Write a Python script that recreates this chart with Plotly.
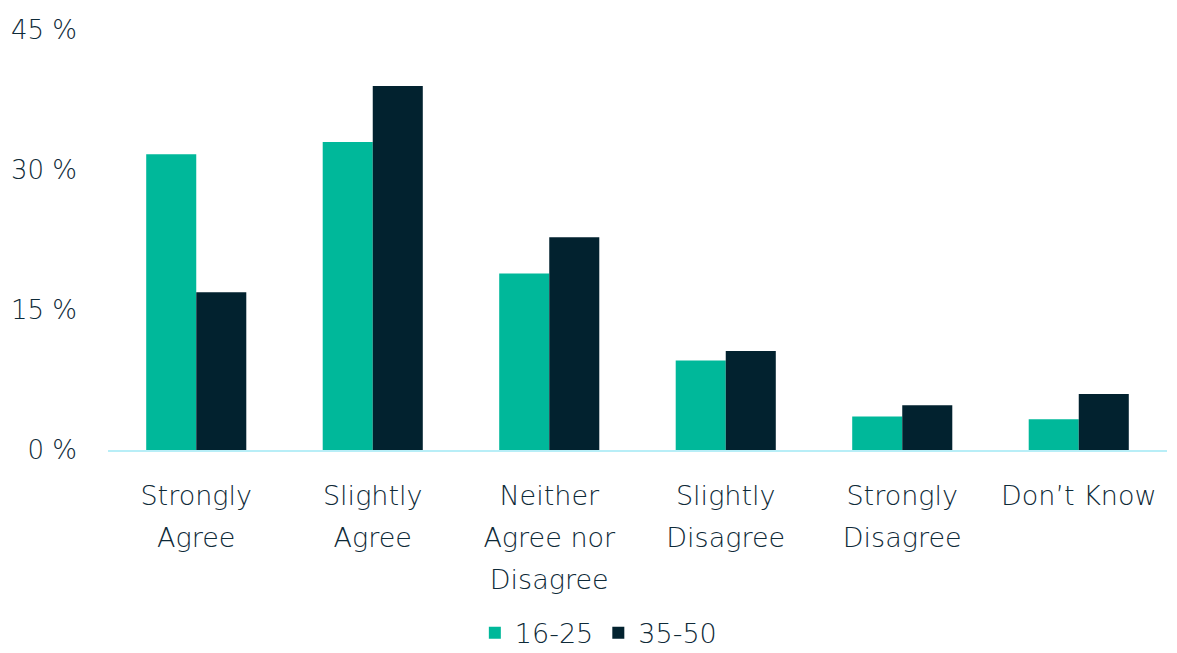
import plotly.graph_objects as go

categories = ["Strongly<br>Agree", "Slightly<br>Agree", "Neither<br>Agree nor<br>Disagree",
              "Slightly<br>Disagree", "Strongly<br>Disagree", "Don’t Know"]
series_names = ["16-25", "35-50"]
values_16_25 = [31.7, 33.0, 18.9, 9.6, 3.6, 3.3]
values_35_50 = [16.9, 39.0, 22.8, 10.6, 4.8, 6.0]
y_ticks = [0, 15, 30, 45]

colors = ["#00B89A", "#02222F"]
text_color = "#0E2A38"
FONT = "DejaVu Sans"

# Wrap each line in a smaller span so line spacing follows the larger base font
def styled(label, size=27):
    return "<br>".join(f"<span style='font-size:{size}px'>{part}</span>" for part in label.split("<br>"))

tick_text = [styled(c) for c in categories]
y_tick_text = [f"{v} %" for v in y_ticks]

fig = go.Figure()
for name, vals, col in zip(series_names, [values_16_25, values_35_50], colors):
    fig.add_trace(go.Bar(name=name, x=categories, y=vals, marker=dict(color=col, line=dict(width=0))))

fig.update_layout(
    width=1169, height=645,
    barmode="group", bargap=0.433, bargroupgap=0,
    plot_bgcolor="white", paper_bgcolor="white",
    margin=dict(l=100, r=10, t=22, b=203, autoexpand=False),
    font=dict(family=FONT, color=text_color, size=26, weight=200),
    legend=dict(orientation="h", xref="container", x=0.505, xanchor="center",
                yref="paper", y=-0.436, yanchor="middle",
                font=dict(size=27, weight=200), itemwidth=30, traceorder="normal"),
    showlegend=True,
)
fig.update_xaxes(
    tickmode="array", tickvals=categories, ticktext=tick_text, automargin=False,
    tickfont=dict(size=32, weight=200), showline=True, linecolor="#B8EEF7", linewidth=2,
    showgrid=False, ticks="", ticklabelstandoff=15, tickangle=0,
)
fig.update_yaxes(
    range=[0, 45], tickmode="array", tickvals=y_ticks, ticktext=y_tick_text, automargin=False,
    showgrid=False, zeroline=False, showline=False, tickfont=dict(size=26, weight=200), ticklabelstandoff=30,
)

fig.write_html("out.html")
